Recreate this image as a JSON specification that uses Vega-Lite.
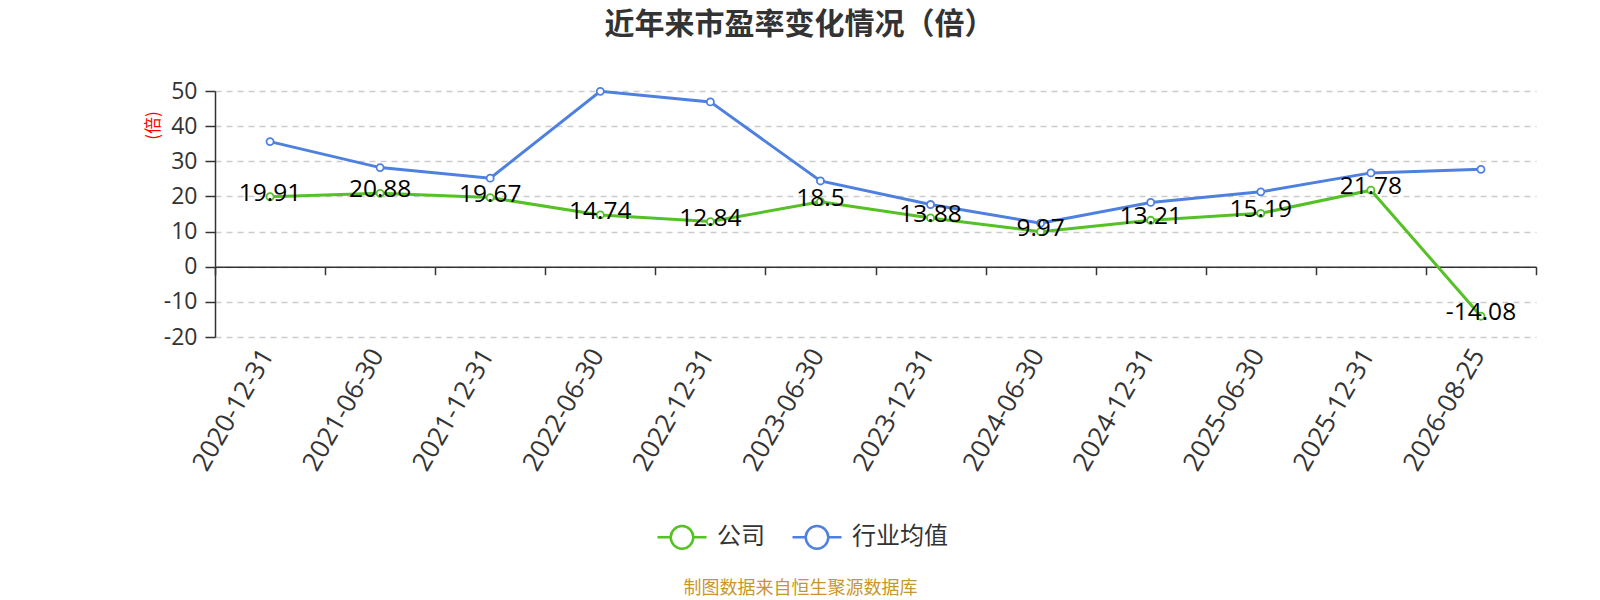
{
  "$schema": "https://vega.github.io/schema/vega-lite/v6.json",
  "autosize": "none",
  "width": 1321,
  "height": 246,
  "padding": {"left": 215, "top": 91, "right": 64, "bottom": 263},
  "background": "white",
  "config": {"font": "Noto Sans CJK SC", "view": {"stroke": null}},
  "title": {
    "text": "近年来市盈率变化情况（倍）",
    "fontSize": 30,
    "fontWeight": "bold",
    "color": "#333",
    "anchor": "middle",
    "dx": -76,
    "offset": 40
  },
  "data": {
    "values": [
      {"date": "2020-12-31", "series": "公司", "value": 19.91},
      {"date": "2021-06-30", "series": "公司", "value": 20.88},
      {"date": "2021-12-31", "series": "公司", "value": 19.67},
      {"date": "2022-06-30", "series": "公司", "value": 14.74},
      {"date": "2022-12-31", "series": "公司", "value": 12.84},
      {"date": "2023-06-30", "series": "公司", "value": 18.5},
      {"date": "2023-12-31", "series": "公司", "value": 13.88},
      {"date": "2024-06-30", "series": "公司", "value": 9.97},
      {"date": "2024-12-31", "series": "公司", "value": 13.21},
      {"date": "2025-06-30", "series": "公司", "value": 15.19},
      {"date": "2025-12-31", "series": "公司", "value": 21.78},
      {"date": "2026-08-25", "series": "公司", "value": -14.08},
      {"date": "2020-12-31", "series": "行业均值", "value": 35.6},
      {"date": "2021-06-30", "series": "行业均值", "value": 28.2},
      {"date": "2021-12-31", "series": "行业均值", "value": 25.2},
      {"date": "2022-06-30", "series": "行业均值", "value": 49.9},
      {"date": "2022-12-31", "series": "行业均值", "value": 46.9},
      {"date": "2023-06-30", "series": "行业均值", "value": 24.4},
      {"date": "2023-12-31", "series": "行业均值", "value": 17.7},
      {"date": "2024-06-30", "series": "行业均值", "value": 12.4},
      {"date": "2024-12-31", "series": "行业均值", "value": 18.3},
      {"date": "2025-06-30", "series": "行业均值", "value": 21.3},
      {"date": "2025-12-31", "series": "行业均值", "value": 26.7},
      {"date": "2026-08-25", "series": "行业均值", "value": 27.7}
    ]
  },
  "encoding": {
    "x": {
      "field": "date",
      "type": "ordinal",
      "sort": null,
      "scale": {"type": "band", "paddingInner": 0, "paddingOuter": 0},
      "axis": {
        "title": "制图数据来自恒生聚源数据库",
        "titleFontSize": 18,
        "titleFontWeight": "normal",
        "titleColor": "#c8962f",
        "titleX": 585,
        "titleY": 322,
        "titleAlign": "center",
        "titleBaseline": "middle",
        "titleAngle": 0,
        "offset": -70.3,
        "domainColor": "#333",
        "domainWidth": 1.5,
        "tickColor": "#333",
        "tickWidth": 1.5,
        "tickSize": 8,
        "tickBand": "extent",
        "labelAngle": -60,
        "labelAlign": "right",
        "labelBaseline": "middle",
        "labelFont": "Open Sans",
        "labelFontSize": 26,
        "labelColor": "#333",
        "labelPadding": 76,
        "labelOffset": -3,
        "grid": false
      }
    },
    "y": {
      "field": "value",
      "type": "quantitative",
      "scale": {"domain": [-20, 50], "nice": false, "zero": false},
      "axis": {
        "title": "(倍)",
        "titleColor": "red",
        "titleFontSize": 17,
        "titleFontWeight": "normal",
        "titleAngle": -90,
        "titleX": -62,
        "titleY": 34,
        "titleAlign": "center",
        "titleBaseline": "middle",
        "values": [-20, -10, 0, 10, 20, 30, 40, 50],
        "labelExpr": "'' + datum.value",
        "labelFont": "Open Sans",
        "labelFontSize": 23,
        "labelColor": "#333",
        "labelPadding": 8,
        "tickSize": 10,
        "tickColor": "#333",
        "tickWidth": 1.5,
        "domainColor": "#333",
        "domainWidth": 1.5,
        "grid": true,
        "gridColor": "#ccc",
        "gridDash": [6, 5],
        "gridWidth": 1.5
      }
    },
    "color": {
      "field": "series",
      "type": "nominal",
      "scale": {"domain": ["公司", "行业均值"], "range": ["#55c126", "#4e80e0"]},
      "legend": {
        "orient": "none",
        "legendX": 441,
        "legendY": 420,
        "direction": "horizontal",
        "title": null,
        "symbolType": "M-1,0H-0.46M0.46,0H1M0.46,0A0.46,0.46,0,1,1,-0.46,0A0.46,0.46,0,1,1,0.46,0",
        "symbolSize": 2401,
        "symbolStrokeWidth": 2.5,
        "symbolFillColor": "white",
        "labelFontSize": 24,
        "labelColor": "#333",
        "labelOffset": 9,
        "columnPadding": 22
      }
    }
  },
  "layer": [
    {"mark": {"type": "line", "strokeWidth": 3}},
    {
      "mark": {
        "type": "point",
        "filled": false,
        "fill": "white",
        "fillOpacity": 1,
        "opacity": 1,
        "size": 50,
        "strokeWidth": 1.8
      }
    },
    {
      "transform": [{"filter": "datum.series == '公司'"}],
      "mark": {
        "type": "text",
        "font": "Open Sans",
        "fontSize": 24.5,
        "baseline": "middle",
        "dy": -3,
        "color": "black"
      },
      "encoding": {
        "text": {"field": "value", "type": "nominal"},
        "color": {"value": "black"}
      }
    }
  ]
}
